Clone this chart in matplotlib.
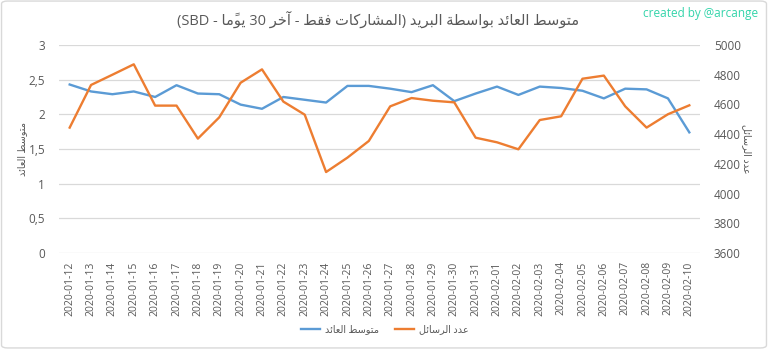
import unicodedata
import re
import matplotlib
matplotlib.use("Agg")
import matplotlib.pyplot as plt
from matplotlib.patches import FancyBboxPatch
from matplotlib.ticker import FuncFormatter, MultipleLocator

# ---------------- data ----------------
dates = ["2020-01-12", "2020-01-13", "2020-01-14", "2020-01-15", "2020-01-16",
         "2020-01-17", "2020-01-18", "2020-01-19", "2020-01-20", "2020-01-21",
         "2020-01-22", "2020-01-23", "2020-01-24", "2020-01-25", "2020-01-26",
         "2020-01-27", "2020-01-28", "2020-01-29", "2020-01-30", "2020-01-31",
         "2020-02-01", "2020-02-02", "2020-02-03", "2020-02-04", "2020-02-05",
         "2020-02-06", "2020-02-07", "2020-02-08", "2020-02-09", "2020-02-10"]
avg_payout = [2.43, 2.33, 2.29, 2.33, 2.25, 2.42, 2.30, 2.29, 2.14, 2.08,
              2.25, 2.21, 2.17, 2.41, 2.41, 2.37, 2.32, 2.42, 2.19, 2.30,
              2.40, 2.28, 2.40, 2.38, 2.34, 2.23, 2.37, 2.36, 2.23, 1.74]
post_count = [4444, 4731, 4800, 4870, 4592, 4592, 4370, 4513, 4746, 4836,
              4619, 4531, 4145, 4242, 4354, 4587, 4643, 4625, 4614, 4376,
              4345, 4298, 4495, 4520, 4773, 4794, 4587, 4444, 4534, 4594]

title = "متوسط العائد بواسطة البريد (المشاركات فقط - آخر 30 يومًا - SBD)"
label_avg = "متوسط العائد"
label_count = "عدد الرسائل"
credit = "created by @arcange"

# ------------- Arabic shaping / visual ordering -------------
_forms = {}
for _cp in range(0xFE70, 0xFF00):
    _d = unicodedata.decomposition(chr(_cp))
    if _d.startswith('<'):
        _tag, *_codes = _d.split()
        if len(_codes) == 1:
            _forms.setdefault(chr(int(_codes[0], 16)), {})[_tag.strip('<>')] = chr(_cp)


def _is_mark(c):
    return unicodedata.category(c) == 'Mn'


def _dual(c):
    return c in _forms and 'initial' in _forms[c]


def _accepts(c):
    return c in _forms and 'final' in _forms[c]


def ar(text):
    if not any('\u0600' <= ch <= '\u06FF' for ch in text):
        return text
    chars = list(text)
    n = len(chars)
    shaped = []
    for i, c in enumerate(chars):
        if c not in _forms:
            shaped.append(c)
            continue
        j = i - 1
        while j >= 0 and _is_mark(chars[j]):
            j -= 1
        k = i + 1
        while k < n and _is_mark(chars[k]):
            k += 1
        pj = j >= 0 and _dual(chars[j]) and _accepts(c)
        nj = k < n and _accepts(chars[k]) and _dual(c)
        if pj and nj:
            f = 'medial'
        elif pj:
            f = 'final'
        elif nj:
            f = 'initial'
        else:
            f = 'isolated'
        shaped.append(_forms[c].get(f, _forms[c].get('isolated', c)))
    clusters = []
    for c in shaped:
        if _is_mark(c) and clusters:
            clusters[-1] += c
        else:
            clusters.append(c)
    tokens = []
    for cl in clusters:
        if re.fullmatch(r'[A-Za-z0-9]', cl) and tokens and re.fullmatch(r'[A-Za-z0-9]+', tokens[-1]):
            tokens[-1] += cl
        else:
            tokens.append(cl)
    mirror = {'(': ')', ')': '('}
    return ''.join(mirror.get(t, t) for t in reversed(tokens))


# ---------------- plot ----------------
plt.rcParams['font.family'] = ['Open Sans', 'DejaVu Sans']

W, H = 768, 349
fig = plt.figure(figsize=(W / 100, H / 100), dpi=100)
fig.patch.set_facecolor('white')
fig.patches.append(FancyBboxPatch((0.002, 0.003), 0.996, 0.994,
                                  boxstyle="round,pad=0,rounding_size=0.008",
                                  transform=fig.transFigure, fill=False,
                                  edgecolor='#d9d9d9', linewidth=1.0))

ax = fig.add_axes([59 / W, 1 - 253 / H, (700 - 59) / W, (253 - 45) / H])
ax2 = ax.twinx()

x = list(range(len(dates)))
blue = '#5B9BD5'
orange = '#ED7D31'
grid = '#d9d9d9'
txt = '#595959'

l1, = ax.plot(x, avg_payout, color=blue, lw=1.7, label=ar(label_avg), zorder=3)
l2, = ax2.plot(x, post_count, color=orange, lw=1.7, label=ar(label_count), zorder=3)

ax.set_xlim(-0.5, len(dates) - 0.5)
ax.set_ylim(0, 3)
ax2.set_ylim(3600, 5000)
ax.yaxis.set_major_locator(MultipleLocator(0.5))
ax2.yaxis.set_major_locator(MultipleLocator(200))
ax.yaxis.set_major_formatter(FuncFormatter(lambda v, p: (f"{v:g}").replace('.', ',')))
ax2.yaxis.set_major_formatter(FuncFormatter(lambda v, p: f"{v:.0f}"))

ax.set_xticks(x)
ax.set_xticklabels(dates, rotation=90, fontsize=7.5, color=txt)
ax.grid(axis='y', color=grid, lw=0.9)
ax.set_axisbelow(True)
for a in (ax, ax2):
    for s in a.spines.values():
        s.set_visible(False)
ax.tick_params(axis='x', length=0, pad=6)
ax.tick_params(axis='y', length=0, labelsize=8.5, labelcolor=txt, pad=10)
ax2.tick_params(axis='y', length=0, labelsize=8.5, labelcolor=txt, pad=10)

ax.set_ylabel(ar(label_avg), fontsize=7, color=txt, labelpad=0)
ax2.set_ylabel(ar(label_count), fontsize=7, color=txt, rotation=270, labelpad=8)

fig.text(0.492, 1 - 20 / H, ar(title), ha='center', va='center', fontsize=10.5, color=txt)
fig.text(0.987, 1 - 14 / H, credit, ha='right', va='center', fontsize=8.5, color='#33d4aa')

fig.legend(handles=[l1, l2], loc='center', bbox_to_anchor=(385 / W, 1 - 330 / H),
           ncol=2, frameon=False, fontsize=7, labelcolor=txt,
           handlelength=2.0, columnspacing=1.6, handletextpad=0.5)

fig.savefig('out.png', dpi=100)
